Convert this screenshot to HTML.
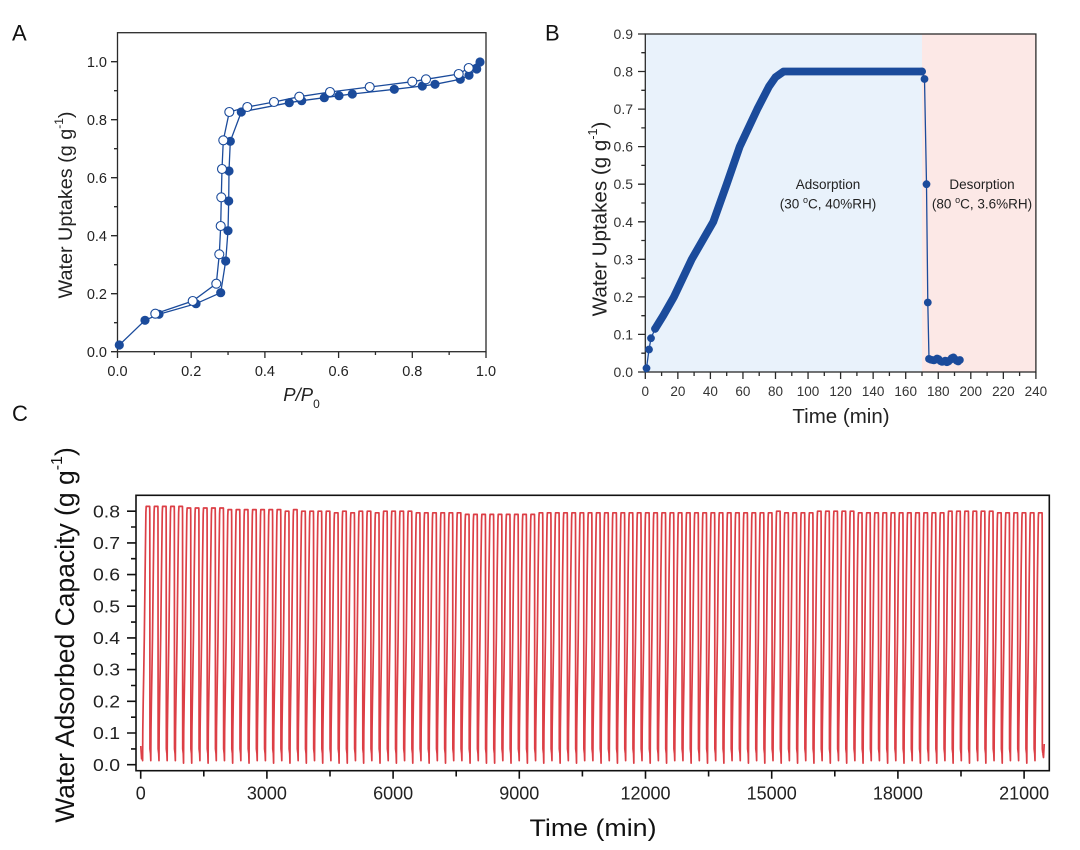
<!DOCTYPE html>
<html><head><meta charset="utf-8"><style>
html,body{margin:0;padding:0;background:#fff;}
svg{display:block;font-family:"Liberation Sans",Arial,sans-serif;}
</style></head><body>
<svg width="1080" height="850" viewBox="0 0 1080 850" xmlns="http://www.w3.org/2000/svg">
<defs>
<path id="a1" d="M-0.29 753.6L0 763.1L0.2 729.8L0.62 701.3L1.19 669.6L1.7 637.9L2.48 574.6L3.3 512.4L3.6 506.4L7.1 506.4L7.2 514.4L7.35 748.9L7.9 753.6"/>
<path id="a2" d="M-0.29 753.6L0 760.6L0.2 729.8L0.62 701.3L1.19 669.6L1.7 637.9L2.48 574.6L3.3 512.4L3.6 506.4L7.1 506.4L7.2 514.4L7.35 748.9L7.9 753.6"/>
<path id="a3" d="M-0.29 753.6L0 757.7L0.2 729.8L0.62 701.3L1.19 669.6L1.7 637.9L2.48 574.6L3.3 512.4L3.6 506.4L7.1 506.4L7.2 514.4L7.35 748.9L7.9 753.6"/>
<path id="b1" d="M-0.29 753.6L0 763.1L0.2 729.8L0.62 701.3L1.19 669.6L1.7 637.9L2.48 574.6L3.3 514L3.6 508L7.1 508L7.2 516L7.35 748.9L7.9 753.6"/>
<path id="b2" d="M-0.29 753.6L0 760.6L0.2 729.8L0.62 701.3L1.19 669.6L1.7 637.9L2.48 574.6L3.3 514L3.6 508L7.1 508L7.2 516L7.35 748.9L7.9 753.6"/>
<path id="c1" d="M-0.29 753.6L0 763.1L0.2 729.8L0.62 701.3L1.19 669.6L1.7 637.9L2.48 574.6L3.3 515.6L3.6 509.6L7.1 509.6L7.2 517.6L7.35 748.9L7.9 753.6"/>
<path id="c2" d="M-0.29 753.6L0 760.6L0.2 729.8L0.62 701.3L1.19 669.6L1.7 637.9L2.48 574.6L3.3 515.6L3.6 509.6L7.1 509.6L7.2 517.6L7.35 748.9L7.9 753.6"/>
<path id="d1" d="M-0.29 753.6L0 763.1L0.2 729.8L0.62 701.3L1.19 669.6L1.7 637.9L2.48 574.6L3.3 517.2L3.6 511.2L7.1 511.2L7.2 519.2L7.35 748.9L7.9 753.6"/>
<path id="d2" d="M-0.29 753.6L0 760.6L0.2 729.8L0.62 701.3L1.19 669.6L1.7 637.9L2.48 574.6L3.3 517.2L3.6 511.2L7.1 511.2L7.2 519.2L7.35 748.9L7.9 753.6"/>
<path id="e1" d="M-0.29 753.6L0 763.1L0.2 729.8L0.62 701.3L1.19 669.6L1.7 637.9L2.48 574.6L3.3 518.8L3.6 512.8L7.1 512.8L7.2 520.8L7.35 748.9L7.9 753.6"/>
<path id="e2" d="M-0.29 753.6L0 760.6L0.2 729.8L0.62 701.3L1.19 669.6L1.7 637.9L2.48 574.6L3.3 518.8L3.6 512.8L7.1 512.8L7.2 520.8L7.35 748.9L7.9 753.6"/>
<path id="f1" d="M-0.29 753.6L0 763.1L0.2 729.8L0.62 701.3L1.19 669.6L1.7 637.9L2.48 574.6L3.3 520.4L3.6 514.4L7.1 514.4L7.2 522.4L7.35 748.9L7.9 753.6"/>
<path id="f2" d="M-0.29 753.6L0 760.6L0.2 729.8L0.62 701.3L1.19 669.6L1.7 637.9L2.48 574.6L3.3 520.4L3.6 514.4L7.1 514.4L7.2 522.4L7.35 748.9L7.9 753.6"/>
</defs>

<!-- Panel letters -->
<text x="12" y="40.5" font-size="22" fill="#111">A</text>
<text x="545" y="40.5" font-size="22" fill="#111">B</text>
<text x="12" y="421" font-size="22" fill="#111">C</text>

<!-- ================= PANEL A ================= -->
<g stroke="#2a2a2a" stroke-width="1.3" fill="none">
<rect x="117.5" y="32.7" width="368.5" height="319"/>
<path d="M111 351.7H117.5M111 293.7H117.5M111 235.7H117.5M111 177.7H117.5M111 119.7H117.5M111 61.7H117.5"/>
<path d="M114 322.7H117.5M114 264.7H117.5M114 206.7H117.5M114 148.7H117.5M114 90.7H117.5"/>
<path d="M117.5 351.7V358M191.2 351.7V358M264.9 351.7V358M338.6 351.7V358M412.3 351.7V358M486 351.7V358"/>
<path d="M154.35 351.7V355M228.05 351.7V355M301.75 351.7V355M375.45 351.7V355M449.15 351.7V355"/>
</g>
<g font-size="14.5" fill="#222" text-anchor="end">
<text x="107" y="356.9">0.0</text>
<text x="107" y="298.9">0.2</text>
<text x="107" y="240.9">0.4</text>
<text x="107" y="182.9">0.6</text>
<text x="107" y="124.9">0.8</text>
<text x="107" y="66.9">1.0</text>
</g>
<g font-size="14.5" fill="#222" text-anchor="middle">
<text x="117.5" y="376">0.0</text>
<text x="191.2" y="376">0.2</text>
<text x="264.9" y="376">0.4</text>
<text x="338.6" y="376">0.6</text>
<text x="412.3" y="376">0.8</text>
<text x="486" y="376">1.0</text>
</g>
<text x="301.5" y="401" font-size="18.5" font-style="italic" fill="#222" text-anchor="middle">P/P<tspan font-size="12" font-style="normal" dy="7">0</tspan></text>
<text transform="translate(72,205) rotate(-90)" font-size="19.8" fill="#222" text-anchor="middle">Water Uptakes (g g<tspan font-size="12" dy="-9">-1</tspan><tspan dy="9">)</tspan></text>

<g stroke="#1b4b9b" stroke-width="1.3" fill="none">
<polyline points="119.3,345 145,320.3 159,314.3 196,303.7 220.7,292.7 225.7,261 228,230.7 228.7,201 229,171 230.3,141.3 241.3,112 289.3,102.7 301.7,100.7 324.3,97.7 339,95.7 352.3,94 394.3,89.3 422.3,86 435,84.3 460.3,79.3 469,75.3 476.7,69 480,62"/>
<polyline points="480,62 468.7,68 458.7,74 426,79.3 412.3,81.7 369.7,87 330,92 299.3,96.7 274,102 247.3,107 229.3,112 223.3,140.3 222,169 221.3,197.3 220.7,226 219.3,254.3 216.3,283.7 192.7,301 155.3,313.7"/>
</g>
<g fill="#1b4b9b">
<circle cx="119.3" cy="345" r="4.6"/><circle cx="145" cy="320.3" r="4.6"/><circle cx="159" cy="314.3" r="4.6"/><circle cx="196" cy="303.7" r="4.6"/><circle cx="220.7" cy="292.7" r="4.6"/><circle cx="225.7" cy="261" r="4.6"/><circle cx="228" cy="230.7" r="4.6"/><circle cx="228.7" cy="201" r="4.6"/><circle cx="229" cy="171" r="4.6"/><circle cx="230.3" cy="141.3" r="4.6"/><circle cx="241.3" cy="112" r="4.6"/><circle cx="289.3" cy="102.7" r="4.6"/><circle cx="301.7" cy="100.7" r="4.6"/><circle cx="324.3" cy="97.7" r="4.6"/><circle cx="339" cy="95.7" r="4.6"/><circle cx="352.3" cy="94" r="4.6"/><circle cx="394.3" cy="89.3" r="4.6"/><circle cx="422.3" cy="86" r="4.6"/><circle cx="435" cy="84.3" r="4.6"/><circle cx="460.3" cy="79.3" r="4.6"/><circle cx="469" cy="75.3" r="4.6"/><circle cx="476.7" cy="69" r="4.6"/><circle cx="480" cy="62" r="4.6"/>
</g>
<g fill="#fff" stroke="#1b4b9b" stroke-width="1.1">
<circle cx="155.3" cy="313.7" r="4.5"/><circle cx="192.7" cy="301" r="4.5"/><circle cx="216.3" cy="283.7" r="4.5"/><circle cx="219.3" cy="254.3" r="4.5"/><circle cx="220.7" cy="226" r="4.5"/><circle cx="221.3" cy="197.3" r="4.5"/><circle cx="222" cy="169" r="4.5"/><circle cx="223.3" cy="140.3" r="4.5"/><circle cx="229.3" cy="112" r="4.5"/><circle cx="247.3" cy="107" r="4.5"/><circle cx="274" cy="102" r="4.5"/><circle cx="299.3" cy="96.7" r="4.5"/><circle cx="330" cy="92" r="4.5"/><circle cx="369.7" cy="87" r="4.5"/><circle cx="412.3" cy="81.7" r="4.5"/><circle cx="426" cy="79.3" r="4.5"/><circle cx="458.7" cy="74" r="4.5"/><circle cx="468.7" cy="68" r="4.5"/>
</g>

<!-- ================= PANEL B ================= -->
<rect x="645.3" y="34" width="276.7" height="338" fill="#e9f2fb"/>
<rect x="922" y="34" width="113.9" height="338" fill="#fce8e6"/>
<g stroke="#2a2a2a" stroke-width="1.3" fill="none">
<rect x="645.3" y="34" width="390.6" height="338"/>
<path d="M638 372H645.3M638 334.4H645.3M638 296.9H645.3M638 259.3H645.3M638 221.8H645.3M638 184.2H645.3M638 146.6H645.3M638 109.1H645.3M638 71.5H645.3M638 34H645.3"/>
<path d="M641.3 353.2H645.3M641.3 315.7H645.3M641.3 278.1H645.3M641.3 240.5H645.3M641.3 203H645.3M641.3 165.4H645.3M641.3 127.9H645.3M641.3 90.3H645.3M641.3 52.7H645.3"/>
<path d="M645.3 372V379M677.85 372V379M710.4 372V379M742.95 372V379M775.5 372V379M808.05 372V379M840.6 372V379M873.15 372V379M905.7 372V379M938.25 372V379M970.8 372V379M1003.35 372V379M1035.9 372V379"/>
<path d="M661.6 372V376M694.1 372V376M726.7 372V376M759.2 372V376M791.8 372V376M824.3 372V376M856.9 372V376M889.4 372V376M922 372V376M954.5 372V376M987.1 372V376M1019.6 372V376"/>
</g>
<g font-size="14" fill="#333" text-anchor="end">
<text x="633" y="377">0.0</text><text x="633" y="339.4">0.1</text><text x="633" y="301.9">0.2</text><text x="633" y="264.3">0.3</text><text x="633" y="226.8">0.4</text><text x="633" y="189.2">0.5</text><text x="633" y="151.6">0.6</text><text x="633" y="114.1">0.7</text><text x="633" y="76.5">0.8</text><text x="633" y="39">0.9</text>
</g>
<g font-size="13.5" fill="#333" text-anchor="middle">
<text x="645.3" y="396">0</text><text x="677.85" y="396">20</text><text x="710.4" y="396">40</text><text x="742.95" y="396">60</text><text x="775.5" y="396">80</text><text x="808.05" y="396">100</text><text x="840.6" y="396">120</text><text x="873.15" y="396">140</text><text x="905.7" y="396">160</text><text x="938.25" y="396">180</text><text x="970.8" y="396">200</text><text x="1003.35" y="396">220</text><text x="1035.9" y="396">240</text>
</g>
<text x="841" y="423" font-size="20.5" fill="#222" text-anchor="middle">Time (min)</text>
<text transform="translate(606.5,219) rotate(-90)" font-size="20.6" fill="#222" text-anchor="middle">Water Uptakes (g g<tspan font-size="12.5" dy="-9.5">-1</tspan><tspan dy="9.5">)</tspan></text>
<g font-size="13.5" fill="#222" text-anchor="middle">
<text x="828" y="189">Adsorption</text>
<text x="828" y="208.5">(30 <tspan font-size="9" dy="-5.5">o</tspan><tspan dy="5.5">C, 40%RH)</tspan></text>
<text x="982" y="189">Desorption</text>
<text x="982" y="208.5">(80 <tspan font-size="9" dy="-5.5">o</tspan><tspan dy="5.5">C, 3.6%RH)</tspan></text>
</g>
<g stroke="#1b4b9b" fill="none" stroke-linejoin="round" stroke-linecap="round">
<polyline stroke-width="1.3" points="645.3,372 646.5,368.2 649,349.5 651,338.2 655.1,328.8 663.2,315.7 673.9,296.9 691.7,259.3 713.3,221.8 726.7,184.2 739.7,146.6 757.3,109.1 769,86.5 775.5,77.2 783.6,71.5 922,71.5 924.5,79 926.5,184.2 927.8,302.5 929,358.9 930.6,359.6 932.2,360 933.9,360.4 935.5,359.6 937.1,358.5 938.7,359.2 940.4,361.1 942,361.9 943.6,361.5 945.2,360.7 946.9,362.2 948.5,361.5 950.1,360 951.7,358.1 953.4,357.4 955,359.2 956.6,360.7 958.2,361.5 959.9,360"/>
<polyline stroke-width="7.8" points="655.1,328.8 663.2,315.7 673.9,296.9 691.7,259.3 713.3,221.8 726.7,184.2 739.7,146.6 757.3,109.1 769,86.5 775.5,77.2 783.6,71.5 922,71.5"/>
</g>
<g fill="#1b4b9b">
<circle cx="646.5" cy="368.2" r="3.9"/><circle cx="649" cy="349.5" r="3.9"/><circle cx="651" cy="338.2" r="3.9"/><circle cx="655.1" cy="328.8" r="3.9"/>
<circle cx="922" cy="71.5" r="3.9"/><circle cx="924.5" cy="79" r="3.9"/><circle cx="926.5" cy="184.2" r="3.9"/><circle cx="927.8" cy="302.5" r="3.9"/>
<circle cx="929" cy="358.9" r="3.9"/><circle cx="930.6" cy="359.6" r="3.9"/><circle cx="932.2" cy="360" r="3.9"/><circle cx="933.9" cy="360.4" r="3.9"/><circle cx="935.5" cy="359.6" r="3.9"/><circle cx="937.1" cy="358.5" r="3.9"/><circle cx="938.7" cy="359.2" r="3.9"/><circle cx="940.4" cy="361.1" r="3.9"/><circle cx="942" cy="361.9" r="3.9"/><circle cx="943.6" cy="361.5" r="3.9"/><circle cx="945.2" cy="360.7" r="3.9"/><circle cx="946.9" cy="362.2" r="3.9"/><circle cx="948.5" cy="361.5" r="3.9"/><circle cx="950.1" cy="360" r="3.9"/><circle cx="951.7" cy="358.1" r="3.9"/><circle cx="953.4" cy="357.4" r="3.9"/><circle cx="955" cy="359.2" r="3.9"/><circle cx="956.6" cy="360.7" r="3.9"/><circle cx="958.2" cy="361.5" r="3.9"/><circle cx="959.9" cy="360" r="3.9"/>
</g>

<!-- ================= PANEL C ================= -->
<g stroke="#dc3f46" stroke-width="1.7" fill="none" stroke-linejoin="round">
<path d="M140.8 746L141.6 758.8L142.31 753.6"/>
<path d="M1042.9 753.6L1043.5 757.5L1044.2 744"/>
<g transform="translate(142.6,0)"><use href="#a2"/><use href="#a2" x="8.187"/><use href="#a2" x="16.374"/><use href="#a2" x="24.561"/><use href="#a2" x="32.748"/><use href="#b1" x="40.935"/><use href="#b1" x="49.122"/><use href="#b2" x="57.309"/><use href="#b1" x="65.496"/><use href="#b2" x="73.683"/></g>
<g transform="translate(224.47,0)"><use href="#c2"/><use href="#c1" x="8.187"/><use href="#c2" x="16.374"/><use href="#c1" x="24.561"/><use href="#c2" x="32.748"/><use href="#c2" x="40.935"/><use href="#c1" x="49.122"/><use href="#d2" x="57.309"/><use href="#c1" x="65.496"/><use href="#d2" x="73.683"/></g>
<g transform="translate(306.34,0)"><use href="#d1"/><use href="#d2" x="8.187"/><use href="#d1" x="16.374"/><use href="#e2" x="24.561"/><use href="#d1" x="32.748"/><use href="#e1" x="40.935"/><use href="#d2" x="49.122"/><use href="#d1" x="57.309"/><use href="#e2" x="65.496"/><use href="#d1" x="73.683"/></g>
<g transform="translate(388.21,0)"><use href="#d2"/><use href="#d1" x="8.187"/><use href="#d2" x="16.374"/><use href="#e1" x="24.561"/><use href="#e2" x="32.748"/><use href="#e1" x="40.935"/><use href="#e2" x="49.122"/><use href="#e1" x="57.309"/><use href="#e2" x="65.496"/><use href="#f2" x="73.683"/></g>
<g transform="translate(470.08,0)"><use href="#f1"/><use href="#f2" x="8.187"/><use href="#f1" x="16.374"/><use href="#f1" x="24.561"/><use href="#f2" x="32.748"/><use href="#f1" x="40.935"/><use href="#f2" x="49.122"/><use href="#f1" x="57.309"/><use href="#e2" x="65.496"/><use href="#e1" x="73.683"/></g>
<g transform="translate(551.95,0)"><use href="#e2"/><use href="#e1" x="8.187"/><use href="#e2" x="16.374"/><use href="#e1" x="24.561"/><use href="#e2" x="32.748"/><use href="#e2" x="40.935"/><use href="#e1" x="49.122"/><use href="#e2" x="57.309"/><use href="#e1" x="65.496"/><use href="#e2" x="73.683"/></g>
<g transform="translate(633.82,0)"><use href="#e1"/><use href="#e2" x="8.187"/><use href="#e1" x="16.374"/><use href="#e2" x="24.561"/><use href="#e1" x="32.748"/><use href="#e2" x="40.935"/><use href="#e2" x="49.122"/><use href="#e1" x="57.309"/><use href="#e2" x="65.496"/><use href="#e1" x="73.683"/></g>
<g transform="translate(715.69,0)"><use href="#e2"/><use href="#e1" x="8.187"/><use href="#e2" x="16.374"/><use href="#e2" x="24.561"/><use href="#e1" x="32.748"/><use href="#e2" x="40.935"/><use href="#e1" x="49.122"/><use href="#d2" x="57.309"/><use href="#e1" x="65.496"/><use href="#e2" x="73.683"/></g>
<g transform="translate(797.56,0)"><use href="#e1"/><use href="#e2" x="8.187"/><use href="#d1" x="16.374"/><use href="#d2" x="24.561"/><use href="#d1" x="32.748"/><use href="#d2" x="40.935"/><use href="#d1" x="49.122"/><use href="#e2" x="57.309"/><use href="#e1" x="65.496"/><use href="#e2" x="73.683"/></g>
<g transform="translate(879.43,0)"><use href="#e2"/><use href="#e1" x="8.187"/><use href="#e2" x="16.374"/><use href="#e1" x="24.561"/><use href="#e2" x="32.748"/><use href="#e1" x="40.935"/><use href="#e2" x="49.122"/><use href="#e1" x="57.309"/><use href="#d2" x="65.496"/><use href="#d1" x="73.683"/></g>
<g transform="translate(961.3,0)"><use href="#d2"/><use href="#d1" x="8.187"/><use href="#d2" x="16.374"/><use href="#d1" x="24.561"/><use href="#e2" x="32.748"/><use href="#e1" x="40.935"/><use href="#e2" x="49.122"/><use href="#e2" x="57.309"/><use href="#e1" x="65.496"/><use href="#e2" x="73.683"/></g>
</g>
<g stroke="#111" stroke-width="1.6" fill="none">
<rect x="136" y="495.3" width="913.3" height="275.4"/>
<path d="M127 764.7H136M127 733H136M127 701.3H136M127 669.6H136M127 637.9H136M127 606.2H136M127 574.6H136M127 542.9H136M127 511.2H136"/>
<path d="M131 748.9H136M131 717.2H136M131 685.5H136M131 653.8H136M131 622.1H136M131 590.4H136M131 558.7H136M131 527H136"/>
<path d="M140.7 770.7V778.7M266.9 770.7V778.7M393.1 770.7V778.7M519.3 770.7V778.7M645.5 770.7V778.7M771.7 770.7V778.7M897.9 770.7V778.7M1024.1 770.7V778.7"/>
<path d="M203.8 770.7V776.5M330 770.7V776.5M456.2 770.7V776.5M582.4 770.7V776.5M708.6 770.7V776.5M834.8 770.7V776.5M961 770.7V776.5"/>
</g>
<g font-size="17.5" fill="#222" text-anchor="end">
<text x="120" y="770.8" textLength="27" lengthAdjust="spacingAndGlyphs">0.0</text>
<text x="120" y="739.1" textLength="27" lengthAdjust="spacingAndGlyphs">0.1</text>
<text x="120" y="707.4" textLength="27" lengthAdjust="spacingAndGlyphs">0.2</text>
<text x="120" y="675.7" textLength="27" lengthAdjust="spacingAndGlyphs">0.3</text>
<text x="120" y="644" textLength="27" lengthAdjust="spacingAndGlyphs">0.4</text>
<text x="120" y="612.3" textLength="27" lengthAdjust="spacingAndGlyphs">0.5</text>
<text x="120" y="580.7" textLength="27" lengthAdjust="spacingAndGlyphs">0.6</text>
<text x="120" y="549" textLength="27" lengthAdjust="spacingAndGlyphs">0.7</text>
<text x="120" y="517.3" textLength="27" lengthAdjust="spacingAndGlyphs">0.8</text>
</g>
<g font-size="18" fill="#222" text-anchor="middle">
<text x="140.7" y="799.5">0</text>
<text x="266.9" y="799.5">3000</text>
<text x="393.1" y="799.5">6000</text>
<text x="519.3" y="799.5">9000</text>
<text x="645.5" y="799.5">12000</text>
<text x="771.7" y="799.5">15000</text>
<text x="897.9" y="799.5">18000</text>
<text x="1024.1" y="799.5">21000</text>
</g>
<text x="593" y="836" font-size="24" fill="#111" text-anchor="middle" textLength="127" lengthAdjust="spacingAndGlyphs">Time (min)</text>
<text transform="translate(74,635) rotate(-90)" font-size="26.5" fill="#111" text-anchor="middle">Water Adsorbed Capacity (g g<tspan font-size="16" dy="-12">-1</tspan><tspan dy="12">)</tspan></text>
</svg>
</body></html>
